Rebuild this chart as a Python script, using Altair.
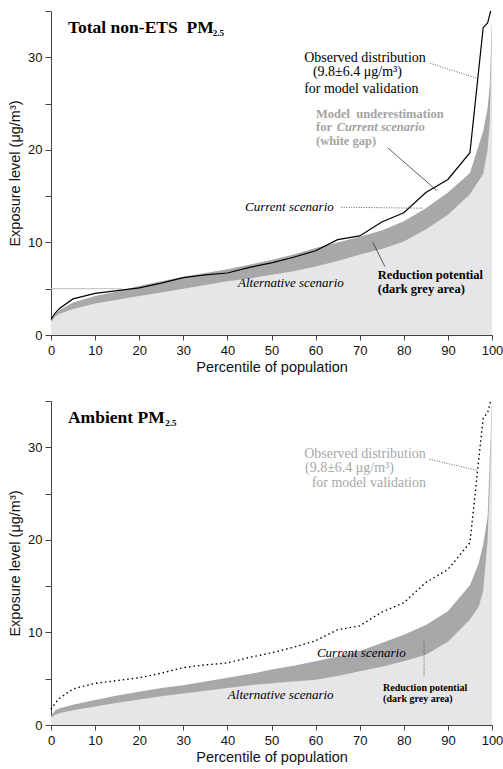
import altair as alt
import pandas as pd

# ---------------- data ----------------
# Observed distribution (same in both panels)
obs_pct = [0, 1, 2, 5, 10, 15, 20, 25, 30, 35, 40, 45, 50, 55, 60, 65, 70, 75, 80, 85, 90, 95, 98, 99, 99.7]
obs_val = [1.7, 2.4, 2.9, 3.9, 4.5, 4.8, 5.1, 5.6, 6.2, 6.5, 6.7, 7.3, 7.8, 8.4, 9.1, 10.3, 10.7, 12.2, 13.2, 15.4, 16.8, 19.7, 33.2, 33.7, 35.0]

# Total non-ETS PM2.5
top_pct = [0, 1, 2, 5, 10, 15, 20, 25, 30, 35, 40, 45, 50, 55, 60, 65, 70, 75, 80, 85, 90, 95, 98, 99, 99.5, 100]
top_current = [1.6, 2.3, 2.7, 3.5, 4.2, 4.7, 5.3, 5.8, 6.3, 6.7, 7.1, 7.6, 8.1, 8.7, 9.4, 10.0, 10.6, 11.3, 12.3, 13.7,
               15.4, 17.5, 22.0, 24.5, 27.0, 34.0]
top_alternative = [1.4, 2.0, 2.3, 2.8, 3.4, 3.8, 4.2, 4.6, 5.0, 5.4, 5.8, 6.1, 6.5, 6.9, 7.4, 8.0, 8.7, 9.3, 10.1, 11.4,
                   13.0, 15.2, 17.4, 20.0, 23.0, 33.0]

# Ambient PM2.5
bot_pct = [0, 1, 2, 5, 10, 15, 20, 25, 30, 35, 40, 45, 50, 55, 60, 65, 70, 75, 80, 85, 90, 95, 97, 98, 99, 99.5, 100]
bot_current = [1.0, 1.6, 1.8, 2.2, 2.7, 3.2, 3.6, 4.0, 4.3, 4.7, 5.1, 5.5, 6.0, 6.4, 6.9, 7.4, 8.0, 8.85, 9.75, 10.8,
               12.3, 15.1, 17.5, 19.5, 22.5, 28.7, 35.0]
bot_alternative = [0.8, 1.1, 1.3, 1.6, 2.0, 2.4, 2.75, 3.1, 3.4, 3.7, 4.0, 4.3, 4.5, 4.7, 4.9, 5.3, 5.8, 6.3, 6.9, 7.6,
                   9.0, 11.4, 12.8, 14.5, 20.0, 26.0, 35.0]

x_ticks = list(range(0, 101, 10))
y_ticks = list(range(0, 36, 5))

SERIF = "Liberation Serif"
SANS = "Liberation Sans"
LIGHT = "#e6e6e8"
DARK = "#a8a8ab"

W, H = 441, 324

xs = alt.Scale(domain=[0, 100], nice=False)
ys = alt.Scale(domain=[0, 35], nice=False)
x_axis = alt.Axis(values=x_ticks, title="Percentile of population", grid=False, labelFlush=False)
y_axis = alt.Axis(values=y_ticks, title="Exposure level (μg/m³)", grid=False, labelFlush=False,
                  labelExpr="datum.value % 10 == 0 ? datum.label : ''")

X = lambda f: alt.X(f, type="quantitative", scale=xs, axis=x_axis, title="Percentile of population")
Y = lambda f: alt.Y(f, type="quantitative", scale=ys, axis=y_axis, title="Exposure level (μg/m³)")


def series(p, v):
    return pd.DataFrame({"p": p, "v": v})


def txt(p, v, s, size, weight="normal", style="normal", color="black"):
    return alt.Chart(pd.DataFrame({"p": [p], "v": [v], "t": [s]})).mark_text(
        align="left", baseline="alphabetic", fontSize=size, fontWeight=weight,
        fontStyle=style, color=color, font=SERIF
    ).encode(x=X("p"), y=Y("v"), text="t:N")


def leader(p1, v1, p2, v2, dash=None, color="#333", width=0.8):
    kw = dict(color=color, strokeWidth=width)
    if dash:
        kw["strokeDash"] = dash
    return alt.Chart(pd.DataFrame({"p": [p1], "v": [v1], "p2": [p2], "v2": [v2]})).mark_rule(**kw).encode(
        x=X("p"), y=Y("v"), x2="p2:Q", y2="v2:Q")


def bands(pct, cur, alt_v):
    dark = alt.Chart(series(pct, cur)).mark_area(color=DARK, opacity=1).encode(x=X("p"), y=Y("v"))
    light = alt.Chart(series(pct, alt_v)).mark_area(color=LIGHT, opacity=1).encode(x=X("p"), y=Y("v"))
    return dark, light


# ---------------- top panel ----------------
d1, l1 = bands(top_pct, top_current, top_alternative)
ref5 = leader(0, 5, 16, 5, color="#bdbdbd", width=1)
obs1 = alt.Chart(series(obs_pct, obs_val)).mark_line(color="black", strokeWidth=1.2).encode(x=X("p"), y=Y("v"))

GREY_T = "#a3a3a3"
top = alt.layer(
    d1, l1, ref5, obs1,
    txt(3.85, 32.6, "Total non-ETS\u00a0\u00a0PM", 17.5, weight="bold"),
    txt(36.7, 32.3, "2.5", 9, weight="bold"),
    txt(57.4, 29.5, "Observed distribution", 14),
    txt(59.4, 28.0, "(9.8\u00b16.4 μg/m³)", 14),
    txt(57.4, 26.1, "for model validation", 14),
    leader(86.0, 29.35, 96.8, 27.7, dash=[1, 1.5]),
    txt(60.1, 23.45, "Model\u00a0\u00a0underestimation", 12.5, weight="bold", color=GREY_T),
    txt(60.1, 22.0, "for", 12.5, weight="bold", color=GREY_T),
    txt(64.8, 22.0, "Current scenario", 12.5, weight="bold", style="italic", color=GREY_T),
    txt(60.1, 20.55, "(white gap)", 12.5, weight="bold", color=GREY_T),
    leader(76.4, 20.2, 87.5, 15.6),
    txt(44.0, 13.4, "Current scenario", 13, style="italic"),
    leader(65.8, 13.8, 84.4, 13.7, dash=[1, 1.5]),
    txt(42.4, 5.2, "Alternative scenario", 13, style="italic"),
    txt(74.1, 6.0, "Reduction potential", 12.5, weight="bold"),
    txt(74.1, 4.55, "(dark grey area)", 12.5, weight="bold"),
    leader(73.0, 10.0, 75.7, 7.4),
).properties(width=W, height=H)

# ---------------- bottom panel ----------------
d2, l2 = bands(bot_pct, bot_current, bot_alternative)
obs2 = alt.Chart(series(obs_pct, obs_val)).mark_line(color="black", strokeWidth=1.4, strokeDash=[1.5, 3]).encode(
    x=X("p"), y=Y("v"))
GREY_O = "#a8a8a8"
bottom = alt.layer(
    d2, l2, obs2,
    txt(3.85, 32.6, "Ambient PM", 17.5, weight="bold"),
    txt(25.9, 32.3, "2.5", 9, weight="bold"),
    txt(57.4, 28.8, "Observed distribution", 14, color=GREY_O),
    txt(57.6, 27.3, "(9.8\u00b16.4 μg/m³)", 14, color=GREY_O),
    txt(59.1, 25.7, "for model validation", 14, color=GREY_O),
    leader(85.8, 28.7, 96.7, 27.5, dash=[1, 1.5]),
    txt(60.3, 7.3, "Current scenario", 13, style="italic"),
    txt(40.1, 2.76, "Alternative scenario", 13, style="italic"),
    txt(75.3, 3.7, "Reduction potential", 10, weight="bold"),
    txt(75.3, 2.45, "(dark grey area)", 10, weight="bold"),
    leader(84.6, 9.0, 84.6, 5.2, dash=[1, 1.5]),
).properties(width=W, height=H)

chart = alt.vconcat(top, bottom, spacing=24).properties(
    padding={"left": 7, "top": 8, "right": 0, "bottom": 5}
).configure_view(stroke=None).configure_axis(
    domainColor="#444", tickColor="#444", labelColor="#111", titleColor="#111",
    labelFont=SANS, titleFont=SANS, labelFontSize=13, titleFontSize=14.5,
    titleFontWeight="normal", tickSize=6, labelPadding=3, titlePadding=5,
).configure_axisX(tickSize=5, labelPadding=4, titlePadding=3)

chart.save("out.html", embed_options={"renderer": "svg", "actions": False})
